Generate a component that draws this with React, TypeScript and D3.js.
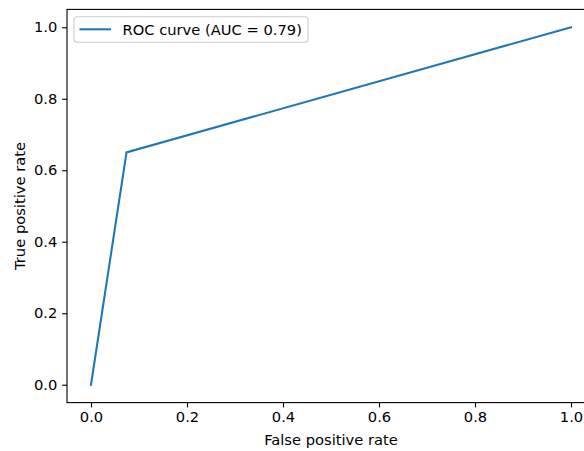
import React, { useEffect, useRef } from 'react';
import * as d3 from 'd3';

// ROC curve points
const fpr = [0, 0.074, 1];
const tpr = [0, 0.65, 1];
const auc = 0.79;
const tickValues = [0, 0.2, 0.4, 0.6, 0.8, 1.0];

const WIDTH = 584;
const HEIGHT = 451;
const LINE_COLOR = '#1f77b4';
const FONT = 'DejaVu Sans, sans-serif';
const FONT_SIZE = '14.7px';

const App: React.FC = () => {
  const svgRef = useRef<SVGSVGElement>(null);

  useEffect(() => {
    if (!svgRef.current) return;
    const svg = d3.select(svgRef.current);
    svg.selectAll('*').remove();

    // axes box (right spine falls outside the picture)
    const left = 67;
    const right = 595;
    const top = 9.4;
    const bottom = 402.6;

    const x = d3.scaleLinear().domain([-0.05, 1.05]).range([left, right]);
    const y = d3.scaleLinear().domain([-0.05, 1.05]).range([bottom, top]);

    const data = fpr.map((f, i) => ({ f, t: tpr[i] }));

    // curve
    const line = d3.line<{ f: number; t: number }>()
      .x(d => x(d.f))
      .y(d => y(d.t));

    svg.append('path')
      .datum(data)
      .attr('fill', 'none')
      .attr('stroke', LINE_COLOR)
      .attr('stroke-width', 2.08)
      .attr('stroke-linecap', 'square')
      .attr('d', line);

    // x axis
    const xAxis = svg.append('g')
      .attr('transform', `translate(0,${bottom})`)
      .call(d3.axisBottom(x).tickValues(tickValues).tickSize(4.86).tickPadding(4.2).tickFormat(d3.format('.1f')));
    xAxis.select('.domain').remove();
    xAxis.selectAll('.tick line').attr('stroke', '#000').attr('stroke-width', 1.1);
    xAxis.selectAll('.tick text')
      .attr('fill', '#000')
      .attr('font-family', FONT)
      .attr('font-size', FONT_SIZE);

    // y axis
    const yAxis = svg.append('g')
      .attr('transform', `translate(${left},0)`)
      .call(d3.axisLeft(y).tickValues(tickValues).tickSize(4.86).tickPadding(4.86).tickFormat(d3.format('.1f')));
    yAxis.select('.domain').remove();
    yAxis.selectAll('.tick line').attr('stroke', '#000').attr('stroke-width', 1.1);
    yAxis.selectAll('.tick text')
      .attr('fill', '#000')
      .attr('font-family', FONT)
      .attr('font-size', FONT_SIZE);

    // spines
    svg.append('rect')
      .attr('x', left)
      .attr('y', top)
      .attr('width', right - left)
      .attr('height', bottom - top)
      .attr('fill', 'none')
      .attr('stroke', '#000')
      .attr('stroke-width', 1.1);

    // axis labels
    svg.append('text')
      .attr('x', (left + right) / 2)
      .attr('y', 445)
      .attr('text-anchor', 'middle')
      .attr('font-family', FONT)
      .attr('font-size', FONT_SIZE)
      .attr('fill', '#000')
      .text('False positive rate');

    svg.append('text')
      .attr('transform', `translate(24.5,${(top + bottom) / 2}) rotate(-90)`)
      .attr('text-anchor', 'middle')
      .attr('font-family', FONT)
      .attr('font-size', FONT_SIZE)
      .attr('fill', '#000')
      .text('True positive rate');

    // legend
    const legend = svg.append('g');
    legend.append('rect')
      .attr('x', 74)
      .attr('y', 16.7)
      .attr('width', 234)
      .attr('height', 25.6)
      .attr('rx', 3)
      .attr('fill', '#fff')
      .attr('fill-opacity', 0.8)
      .attr('stroke', '#cccccc')
      .attr('stroke-width', 1.1);
    legend.append('line')
      .attr('x1', 79.5)
      .attr('x2', 111)
      .attr('y1', 29.3)
      .attr('y2', 29.3)
      .attr('stroke', LINE_COLOR)
      .attr('stroke-width', 2.08);
    legend.append('text')
      .attr('x', 122.5)
      .attr('y', 34.6)
      .attr('font-family', FONT)
      .attr('font-size', FONT_SIZE)
      .attr('fill', '#000')
      .text(`ROC curve (AUC = ${auc.toFixed(2)})`);
  }, []);

  return (
    <svg
      ref={svgRef}
      width={WIDTH}
      height={HEIGHT}
      style={{ position: 'absolute', left: 0, top: 0, background: '#fff' }}
    ></svg>
  );
};

export default App;
